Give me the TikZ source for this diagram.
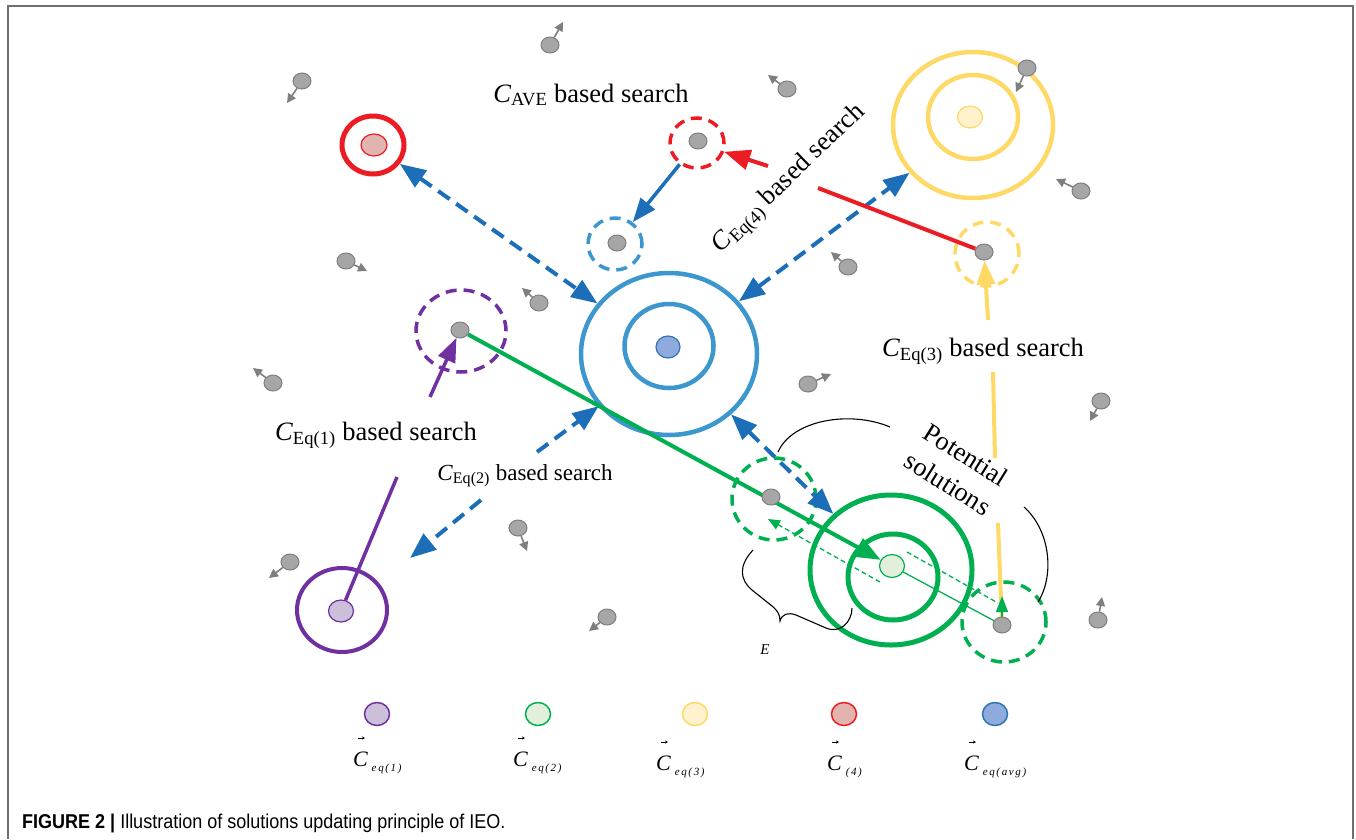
\documentclass[tikz,border=0pt]{standalone}
\usepackage{fontspec}
\setmainfont{Liberation Serif}
\newfontfamily\capfont{Liberation Sans}
\usetikzlibrary{arrows.meta,shapes.geometric,backgrounds}

\definecolor{ringblue}{HTML}{3C97CF}
\definecolor{arrblue}{HTML}{1B6EB7}
\definecolor{avgfill}{HTML}{8FAADC}
\definecolor{avgedge}{HTML}{2E75B6}
\definecolor{cred}{HTML}{ED1C24}
\definecolor{redfill}{HTML}{E2B4B0}
\definecolor{cyellow}{HTML}{FFD966}
\definecolor{yelfill}{HTML}{FFF2CC}
\definecolor{cgreen}{HTML}{00B050}
\definecolor{grnfill}{HTML}{E2EFDA}
\definecolor{cpurple}{HTML}{7030A0}
\definecolor{purfill}{HTML}{CBBFDA}
\definecolor{dotgray}{HTML}{A6A6A6}
\definecolor{dotedge}{HTML}{7F7F7F}
\definecolor{framegray}{HTML}{707070}

\newcommand\Csub[1]{\textit{C}\textsubscript{#1}}
\newcommand\legsub[1]{\raisebox{-5pt}{\fontsize{11}{11}\selectfont\itshape\addfontfeatures{LetterSpace=15}#1}}

\begin{document}
\begin{tikzpicture}[x=1pt,y=-1pt,
  bh/.tip={Triangle[length=26pt,width=20pt]},
  sh/.tip={Triangle[length=24pt,width=18pt]},
  ring/.style={ellipse, draw, line width=4.5pt, inner sep=0pt},
  dring/.style={ellipse, draw, line width=3.5pt, dash pattern=on 11pt off 7pt, inner sep=0pt},
  cdot/.style={ellipse, draw, line width=1.2pt, inner sep=0pt, minimum width=25pt, minimum height=22pt},
  gdot/.style={ellipse, draw=dotedge, fill=dotgray, line width=1pt, inner sep=0pt, minimum width=18pt, minimum height=16pt},
  garrow/.style={draw=dotedge, line width=1.6pt, -{Triangle[length=9pt,width=9pt]}},
  bdash/.style={draw=arrblue, line width=4pt, dash pattern=on 14pt off 8pt},
  bsolid/.style={draw=arrblue, line width=3.5pt},
  redline/.style={draw=cred, line width=4pt},
  yline/.style={draw=cyellow, line width=4pt},
  pline/.style={draw=cpurple, line width=3.5pt},
  gthick/.style={draw=cgreen, line width=4pt},
  gthin/.style={draw=cgreen, line width=1.3pt},
  lbl/.style={font=\fontsize{26.5}{30}\selectfont, inner sep=0pt},
  legC/.style={font=\fontsize{22}{22}\selectfont, inner sep=0pt, anchor=base west},
  legarrow/.style={draw=black, line width=0.6pt, -{Stealth[length=3pt,width=3pt]}},
  curve/.style={draw=black, line width=1.1pt}
]
\useasboundingbox (0,0) rectangle (1356,839);

% small solution dots (top layer)
\node[gdot] (rdd) at (698,141) {};
\node[gdot] (bdd) at (617,243) {};
\node[gdot] (pdd) at (460,330) {};
\node[gdot] (ydd) at (984,252) {};
\node[gdot] (gda) at (771,497) {};
\node[gdot] (gdb) at (1002,625) {};

% centre points of the equilibrium candidates
\node[cdot, draw=avgedge, fill=avgfill, minimum width=24pt] (avg) at (668,347) {};
\node[cdot, draw=cred, fill=redfill, minimum width=26pt] (c4) at (374,145) {};
\node[cdot, draw=cyellow, fill=yelfill] (c3) at (970,117) {};
\node[cdot, draw=cgreen, fill=grnfill, minimum height=23pt] (c2) at (892,566) {};
\node[cdot, draw=cpurple, fill=purfill] (c1) at (341,611) {};

% scattered population with movement directions
\foreach \i/\x/\y/\dx/\dy in {1/550/45/13/-23, 2/302/81/-15/22, 3/787/89/-19/-14,
    4/1027/68/-11/24, 5/1081/191/-25/-12, 6/346/261/21/10, 7/539/303/-17/-15,
    8/848/267/-17/-15, 9/273/383/-20/-15, 10/808/384/23/-10, 11/1101/401/-11/20,
    12/518/528/9/23, 13/290/562/-21/16, 14/607/617/-18/14, 15/1098/620/4/-23} {
  \node[gdot] (g\i) at (\x,\y) {};
  \draw[garrow] (g\i) -- ++(\dx,\dy);
}

\begin{pgfonlayer}{background}
\fill[white] (0,0) rectangle (1356,839);
\draw[framegray, line width=1.5pt] (8,839) -- (8,6) -- (1353,6) -- (1353,839);

% rings round the candidates
\node[ring, draw=ringblue, minimum width=176pt, minimum height=162pt] (avgO) at (669,354) {};
\node[ring, draw=ringblue, minimum width=89pt, minimum height=84pt] (avgI) at (669,346) {};
\node[ring, draw=cred, line width=5pt, minimum width=62pt, minimum height=58pt] (c4O) at (373,145) {};
\node[ring, draw=cyellow, minimum width=160pt, minimum height=146pt] (c3O) at (973,125) {};
\node[ring, draw=cyellow, minimum width=90pt, minimum height=84pt] (c3I) at (973,117) {};
\node[ring, draw=cgreen, line width=5pt, minimum width=162pt, minimum height=150pt] (c2O) at (891,570) {};
\node[ring, draw=cgreen, line width=5pt, minimum width=90pt, minimum height=86pt] (c2I) at (893,577) {};
\node[ring, draw=cpurple, line width=4pt, minimum width=90pt, minimum height=84pt] (c1O) at (342,610) {};

% dashed neighbourhoods
\node[dring, draw=cred, minimum width=54pt, minimum height=50pt] (rd) at (697,143) {};
\node[dring, draw=ringblue, minimum width=54pt, minimum height=52pt] (bd) at (615,244) {};
\node[dring, draw=cpurple, minimum width=90pt, minimum height=82pt] (pd) at (461,331) {};
\node[dring, draw=cyellow, minimum width=64pt, minimum height=64pt] (yd) at (987,254) {};
\node[dring, draw=cgreen, minimum width=84pt, minimum height=82pt] (gcA) at (774,499) {};
\node[dring, draw=cgreen, minimum width=84pt, minimum height=80pt] (gcB) at (1004,622) {};

% free ends of broken connectors
\coordinate (e2a) at (481,500);
\coordinate (e2b) at (537,452);
\coordinate (e2tip) at (410,558);
\coordinate (r4a) at (818,188);
\coordinate (r4b) at (768,166);
\coordinate (y3a) at (988,320);
\coordinate (y3b) at (993,372);
\coordinate (y3c) at (995,458);
\coordinate (y3d) at (998,523);
\coordinate (gup) at (1002,596);
\coordinate (p1a) at (430,397);
\coordinate (p1b) at (397,477);
\coordinate (gd1s) at (880,582);
\coordinate (gd1e) at (768,519);
\coordinate (gd2s) at (907,552);
\coordinate (gd2e) at (998,603);

% searches around the average
\draw[bdash, bh-bh] (c4O) -- (avgO);
\draw[bdash, bh-bh] (avgO) -- (c3O);
\draw[bdash, bh-bh] (avgO) -- (c2O);
\draw[bdash, -bh] (e2b) -- (avgO);
\draw[bdash, -bh] (e2a) -- (e2tip);
\draw[bsolid, -sh] (rd) -- (bd);

% C_Eq(4) search
\draw[redline] (ydd) -- (r4a);
\draw[redline, -bh] (r4b) -- (rd);

% C_Eq(3) search
\draw[yline, -sh] (y3a) -- (ydd);
\draw[yline] (y3b) -- (y3c);
\draw[yline] (y3d) -- (gdb);
\draw[gthin, -{Triangle[length=16pt,width=12pt]}] (gdb) -- (gup);

% C_Eq(1) search
\draw[pline] (c1) -- (p1b);
\draw[pline, -sh] (p1a) -- (pdd);

% C_Eq(2) search
\draw[gthick, -bh] (pdd) -- (c2);
\draw[gthin] (c2) -- (gdb);
\draw[gthin, dash pattern=on 5pt off 3pt, -{Triangle[length=12pt,width=10pt]}] (gd1s) -- (gd1e);
\draw[gthin, dash pattern=on 5pt off 3pt] (gd2s) -- (gd2e);
\end{pgfonlayer}

% brackets
\draw[curve] (778,452) .. controls (792,420) and (850,410) .. (890,427);
\draw[curve] (1024,507) .. controls (1050,530) and (1055,575) .. (1038,602);
\draw[curve] (753,550) .. controls (738,566) and (740,580) .. (752,590) -- (772,606)
  .. controls (778,611) and (780,615) .. (780,621)
  .. controls (782,614) and (788,612) .. (796,615) -- (826,628)
  .. controls (840,634) and (852,622) .. (852,608);
\node[font=\fontsize{15}{15}\selectfont\itshape, inner sep=0pt] (lE) at (765,650) {E};

% labels
\node[lbl, anchor=base] (tAVE) at (591,102) {\Csub{AVE} based search};
\node[lbl, anchor=base] (tEq1) at (376,440) {\Csub{Eq(1)} based search};
\node[lbl, anchor=base, font=\fontsize{23}{26}\selectfont] (tEq2) at (525,480) {\Csub{Eq(2)} based search};
\node[lbl, anchor=base] (tEq3) at (983,356) {\Csub{Eq(3)} based search};
\node[lbl, anchor=base, rotate=44] (tEq4) at (793,183) {\Csub{Eq(4)} based search};
\node[lbl, align=center, rotate=-32, font=\fontsize{26.5}{34}\selectfont] (tPot) at (957,469) {Potential\\solutions};

% legend
\node[cdot, draw=cpurple, fill=purfill, line width=1.5pt, minimum width=25pt, minimum height=23pt] (l1) at (377,714) {};
\node[cdot, draw=cgreen, fill=grnfill, line width=1.5pt, minimum width=25pt, minimum height=23pt] (l2) at (538,714) {};
\node[cdot, draw=cyellow, fill=yelfill, line width=1.5pt, minimum width=25pt, minimum height=23pt] (l3) at (695,714) {};
\node[cdot, draw=cred, fill=redfill, line width=1.5pt, minimum width=25pt, minimum height=23pt] (l4) at (844,714) {};
\node[cdot, draw=avgedge, fill=avgfill, line width=1.5pt, minimum width=25pt, minimum height=23pt] (l5) at (995,714) {};

\node[legC] (lt1) at (353,766) {\textit{C}\,\legsub{eq(1)}};
\node[legC] (lt2) at (513,766) {\textit{C}\,\legsub{eq(2)}};
\node[legC] (lt3) at (656,770) {\textit{C}\,\legsub{eq(3)}};
\node[legC] (lt4) at (827,770) {\textit{C}\,\legsub{(4)}};
\node[legC] (lt5) at (964,770) {\textit{C}\,\legsub{eq(avg)}};
\foreach \n in {1,2,3,4,5} {
  \draw[legarrow] ([shift={(5,-28)}]lt\n.base west) -- ++(7,0);
}

% caption
\node[anchor=base west, inner sep=0pt, font=\capfont\fontsize{20}{20}\selectfont] (cap) at (22,828)
  {\scalebox{0.9}[1]{\textbf{FIGURE 2 |} Illustration of solutions updating principle of IEO.}};
\end{tikzpicture}
\end{document}
